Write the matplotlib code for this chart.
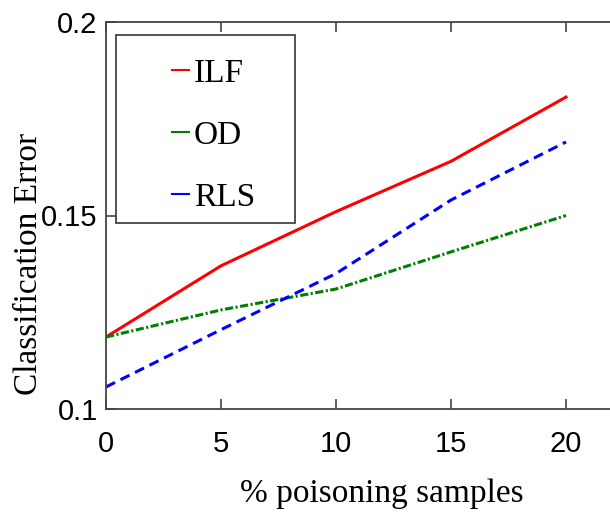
import matplotlib
matplotlib.use("Agg")
import matplotlib.pyplot as plt
from matplotlib.patches import Rectangle

# data
x = [0, 5, 10, 15, 20]
ilf = [0.1186, 0.137, 0.151, 0.164, 0.1806]
od = [0.1186, 0.1256, 0.131, 0.1406, 0.150]
rls = [0.1057, 0.1205, 0.135, 0.154, 0.169]
xticks = [0, 5, 10, 15, 20]
yticks = [0.1, 0.15, 0.2]
ytick_labels = ["0.1", "0.15", "0.2"]

serif = ["Liberation Serif", "DejaVu Serif"]
sans = ["Liberation Sans", "DejaVu Sans"]

W, H = 610, 515
fig = plt.figure(figsize=(W / 100, H / 100), dpi=100)
# axes run off the right edge like in the reference
ax_w, ax_h = 575, 387
ax = fig.add_axes([106 / W, 106 / H, ax_w / W, ax_h / H])

ax.plot(x, ilf, color="#ff0000", lw=2.2, label="ILF")
ax.plot(x, od, color="#008000", lw=2.2, ls=(0, (2.7, 0.8, 0.7, 0.8)), label="OD")
ax.plot(x, rls, color="#0000ff", lw=2.2, ls=(0, (3.3, 2.0)), label="RLS")

ax.set_xlim(0, 25)
ax.set_ylim(0.1, 0.2)
ax.set_xticks(xticks)
ax.set_yticks(yticks)
ax.set_yticklabels(ytick_labels)

for s in ax.spines.values():
    s.set_color("#444444")
    s.set_linewidth(1.3)
ax.tick_params(direction="in", length=7, width=1.2, color="#444444",
               top=True, right=False, labelsize=21)
ax.tick_params(axis="x", pad=15)
ax.tick_params(axis="y", pad=6)
for lab in ax.get_xticklabels() + ax.get_yticklabels():
    lab.set_family(sans)

ax.set_ylabel("Classification Error", family=serif, fontsize=24, va="center")
ax.yaxis.set_label_coords((29 - 106) / ax_w, (409 - 264) / ax_h)
ax.set_xlabel("% poisoning samples", family=serif, fontsize=24, va="center")
ax.xaxis.set_label_coords((382 - 106) / ax_w, (409 - 494) / ax_h)

# legend box drawn separately (padding is uneven in the reference)
bx0, by0, bx1, by1 = 116, 35, 295, 223
ax.add_patch(Rectangle(((bx0 - 106) / ax_w, (409 - by1) / ax_h),
                       (bx1 - bx0) / ax_w, (by1 - by0) / ax_h,
                       transform=ax.transAxes, fill=True, facecolor="white",
                       edgecolor="#444444", lw=1.3, zorder=4))
leg = ax.legend(loc="upper left", bbox_to_anchor=((172 - 106) / ax_w, (409 - 58) / ax_h),
                prop={"family": serif, "size": 24}, handlelength=0.5,
                handletextpad=0.15, labelspacing=0.95, borderpad=0,
                borderaxespad=0, frameon=False)
leg.set_zorder(5)
for line in leg.get_lines():
    line.set_linewidth(1.5)
    line.set_linestyle("-")

fig.savefig("out.png", dpi=100)
